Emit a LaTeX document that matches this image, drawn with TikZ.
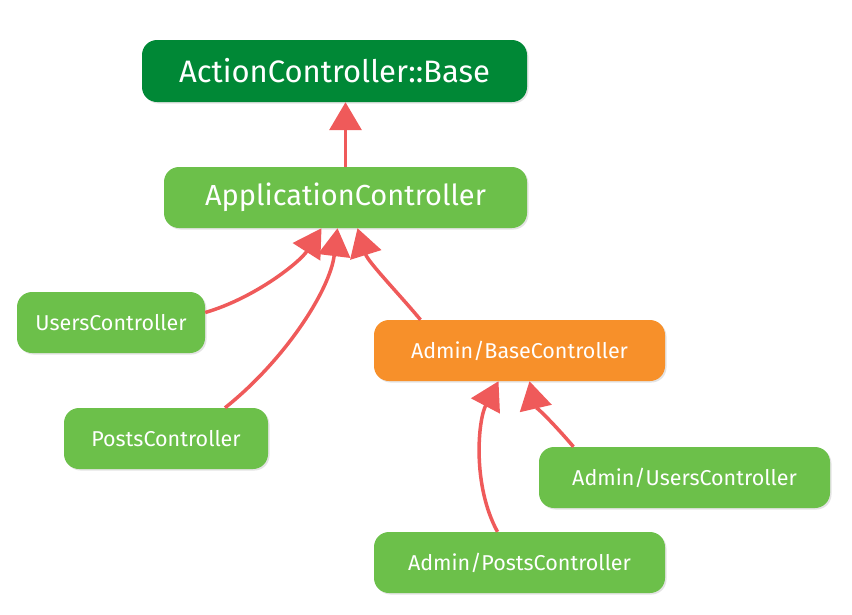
\documentclass[tikz,border=0pt]{standalone}
\usepackage{fontspec}
\setmainfont{Fira Sans}
\usetikzlibrary{arrows.meta,shadows}
\definecolor{dkgreen}{RGB}{0,136,54}
\definecolor{ltgreen}{RGB}{108,192,74}
\definecolor{orng}{RGB}{247,144,42}
\definecolor{arrred}{RGB}{239,90,90}
\tikzset{
  box/.style={rectangle, rounded corners=15pt, text=white, minimum height=61pt, inner sep=0pt,
    drop shadow={opacity=0.22, shadow xshift=1.5pt, shadow yshift=-1.5pt}},
  bigtext/.style={font=\fontsize{31}{36}\selectfont},
  apptext/.style={font=\fontsize{29}{34}\selectfont},
  smalltext/.style={font=\fontsize{21.5}{26}\selectfont},
  arr/.style={draw=arrred, line width=3.5pt, -{Triangle[length=28pt,width=32pt]}, fill=none},
}
\begin{document}
\begin{tikzpicture}[x=1pt,y=-1pt]
\useasboundingbox (0,0) rectangle (852,614);
\node[box, bigtext, fill=dkgreen, minimum width=385pt, minimum height=62pt] (base) at (334.5,71) {ActionController::Base};
\node[box, apptext, fill=ltgreen, minimum width=363pt] (app) at (345.5,197.5) {ApplicationController};
\node[box, smalltext, fill=ltgreen, minimum width=188pt] (users) at (111,322.5) {UsersController};
\node[box, smalltext, fill=ltgreen, minimum width=204pt] (posts) at (166,438.5) {PostsController};
\node[box, smalltext, fill=orng, minimum width=291pt] (abase) at (519.5,350.5) {Admin/BaseController};
\node[box, smalltext, fill=ltgreen, minimum width=291pt] (ausers) at (684.5,477.5) {Admin/UsersController};
\node[box, smalltext, fill=ltgreen, minimum width=291pt] (aposts) at (519.5,562.5) {Admin/PostsController};

\draw[arr] (app.north) -- ([xshift=11pt]base.south);
\draw[arr] ([yshift=10pt]users.east) .. controls (255,298) and (300,262) .. ([xshift=-24pt]app.south);
\draw[arr] ([xshift=59pt]posts.north) .. controls (285,360) and (330,290) .. ([xshift=-8pt]app.south);
\draw[arr] ([xshift=-99pt]abase.north) .. controls (400,295) and (368,262) .. ([xshift=12pt]app.south);
\draw[arr] ([xshift=-22pt]aposts.north) .. controls (472,485) and (478,420) .. ([xshift=-21pt]abase.south);
\draw[arr] ([xshift=-111pt]ausers.north) .. controls (555,425) and (535,405) .. ([xshift=10pt]abase.south);
\end{tikzpicture}
\end{document}
